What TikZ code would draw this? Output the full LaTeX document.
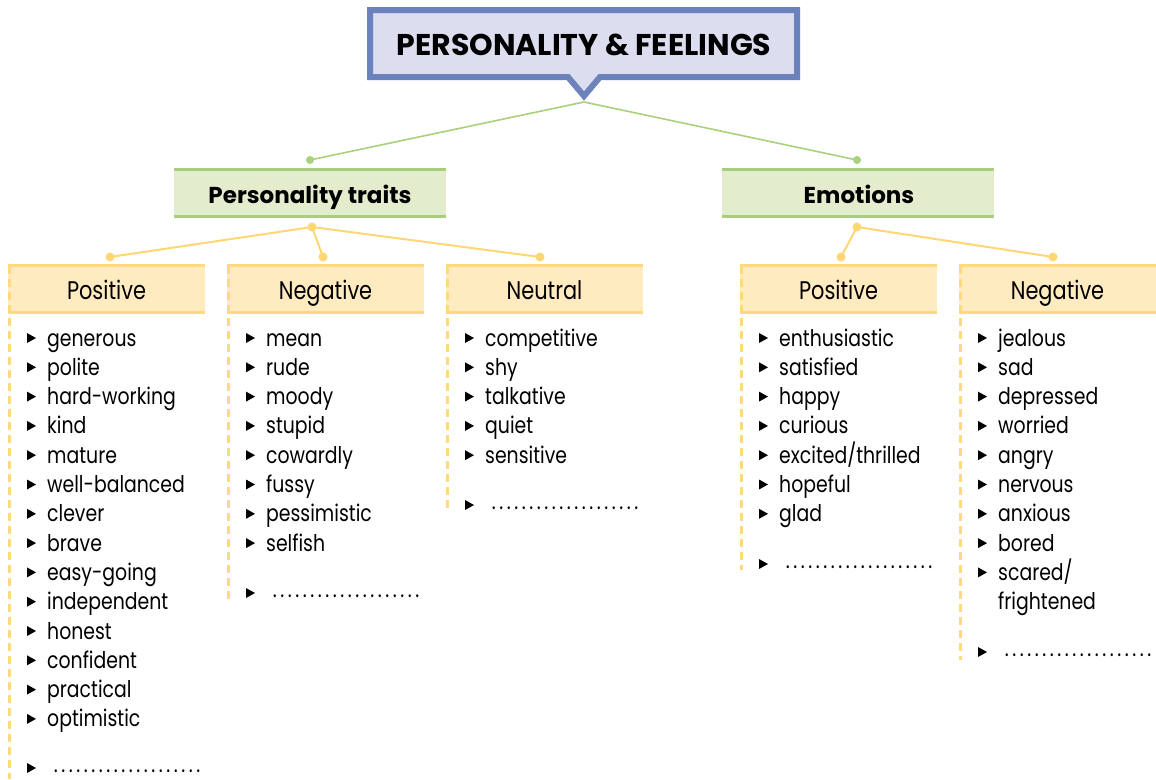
\documentclass[tikz,border=0pt]{standalone}
\usepackage{fontspec}
\setmainfont{Poppins}[FakeStretch=0.82]
\newfontfamily\widefont{Poppins}
\definecolor{tborder}{HTML}{6B82BC}
\definecolor{tfill}{HTML}{DCDDEE}
\definecolor{gline}{HTML}{A9D07D}
\definecolor{gfill}{HTML}{E3ECCD}
\definecolor{gedge}{HTML}{A9CD7F}
\definecolor{yline}{HTML}{FFD674}
\definecolor{yfill}{HTML}{FFEBBF}
\definecolor{yedge}{HTML}{FFD97E}
\tikzset{
  item/.style={anchor=base west,inner sep=0pt,font=\fontsize{23}{26}\selectfont},
  dotrow/.style={anchor=base west,inner sep=0pt,font=\fontsize{23}{26}\selectfont},
  yhead/.style={minimum width=197pt,minimum height=46pt,inner sep=0pt,fill=yfill},
  ytext/.style={anchor=base,inner sep=0pt,font=\fontsize{25.5}{28}\selectfont},
  ghead/.style={minimum width=272pt,minimum height=46pt,inner sep=0pt,fill=gfill},
  gtext/.style={anchor=base,inner sep=0pt,font=\widefont\fontsize{23}{26}\selectfont\bfseries},
  yedgeline/.style={yedge,line width=3pt},
  gedgeline/.style={gedge,line width=3pt},
  ydash/.style={yedge,line width=2.5pt,dash pattern=on 8pt off 5pt},
  gconn/.style={gline,line width=1.6pt},
  yconn/.style={yline,line width=2pt},
  gdot/.style={fill=gline},
  ydot/.style={fill=yline},
}
\newcommand\wordcol[6]{%
  % #1 name, #2 left x, #3 header, #4 items, #5 dots y, #6 dashed bottom
  \node[yhead] (#1h) at ({#2+98.5},289) {};
  \node[ytext] (#1ht) at ({#2+98.5},299) {#3};
  \draw[yedgeline] (#1h.north west) -- (#1h.north east);
  \draw[yedgeline] (#1h.south west) -- (#1h.south east);
  \draw[ydash] ({#2+1.5},266) -- ({#2+1.5},#6);
  \foreach \t [count=\i from 0] in {#4} {
    \fill ({#2+19},{338+29.3*\i-5}) -- ({#2+28},{338+29.3*\i}) -- ({#2+19},{338+29.3*\i+5}) -- cycle;
    \node[item] (#1\i) at ({#2+39},{338+29.3*\i+8}) {\t};
  }
  \fill ({#2+19},{#5-5}) -- ({#2+28},{#5}) -- ({#2+19},{#5+5}) -- cycle;
  \node[dotrow] (#1d) at ({#2+44},{#5+4}) {\hbox to 150pt{\xleaders\hbox to 7.5pt{\hss.\hss}\hfill}};
}
\begin{document}
\begin{tikzpicture}[x=1pt,y=-1pt]
\useasboundingbox (0,0) rectangle (1156,779);
% title callout
\draw[tborder,line width=6pt,fill=tfill,line join=miter]
  (370,10) -- (797,10) -- (797,77) -- (600,77) -- (584,96) -- (568,77) -- (370,77) -- cycle;
\node[anchor=base,inner sep=0pt,font=\widefont\fontsize{30}{32}\selectfont\bfseries] (title) at (584,55) {PERSONALITY \& FEELINGS};
\coordinate (tip) at (584,102);
% green level
\coordinate (gL) at (310,160);
\coordinate (gR) at (857,160);
\draw[gconn] (tip) -- (gL);
\draw[gconn] (tip) -- (gR);
\fill[gdot] (gL) circle (4);
\fill[gdot] (gR) circle (4);
\node[ghead] (pt) at (310,193) {};
\node[ghead] (em) at (858,193) {};
\node[gtext] (ptt) at (310,203) {Personality traits};
\node[gtext] (emt) at (859,203) {Emotions};
\foreach \n in {pt,em} {
  \draw[gedgeline] (\n.north west) -- (\n.north east);
  \draw[gedgeline] (\n.south west) -- (\n.south east);
}
% yellow connectors
\coordinate (ptd) at (312,227);
\coordinate (emd) at (857,227);
\coordinate (c1) at (110,257);
\coordinate (c2) at (323,257);
\coordinate (c3) at (540,257);
\coordinate (c4) at (841,257);
\coordinate (c5) at (1053,257);
\foreach \c in {c1,c2,c3} \draw[yconn] (ptd) -- (\c);
\foreach \c in {c4,c5} \draw[yconn] (emd) -- (\c);
\foreach \c in {ptd,emd,c1,c2,c3,c4,c5} \fill[ydot] (\c) circle (4.5);
% columns
\wordcol{a}{8}{Positive}{generous,polite,hard-working,kind,mature,well-balanced,clever,brave,easy-going,independent,honest,confident,practical,optimistic}{768}{779}
\wordcol{b}{227}{Negative}{mean,rude,moody,stupid,cowardly,fussy,pessimistic,selfish}{593}{600}
\wordcol{c}{446}{Neutral}{competitive,shy,talkative,quiet,sensitive}{505}{510}
\wordcol{d}{740}{Positive}{enthusiastic,satisfied,happy,curious,{excited/thrilled},hopeful,glad}{564}{570}
\wordcol{e}{959}{Negative}{jealous,sad,depressed,worried,angry,nervous,anxious,bored,{scared/}}{652}{660}
\node[item] (e9) at (998,{338+29.3*9+8}) {frightened};
\end{tikzpicture}
\end{document}
